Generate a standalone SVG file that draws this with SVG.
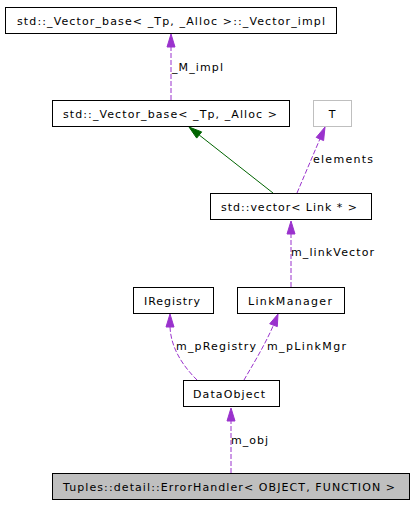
<svg xmlns="http://www.w3.org/2000/svg" width="415" height="507" viewBox="0 0 415 507">
<style>
.box{fill:#fff;stroke:#000;stroke-width:1}
.t{font-family:"DejaVu Sans",sans-serif;font-size:11px;fill:#000;text-anchor:middle}
.l{font-family:"DejaVu Sans",sans-serif;font-size:11px;fill:#000}
.d{fill:none;stroke:#9a32cd;stroke-width:1;stroke-dasharray:5,2}
.ah{fill:#9a32cd;stroke:#9a32cd}
</style>
<rect width="415" height="507" fill="#fff"/>
<g id="connectors">
<path class="d" d="M171,100 L171,47"/>
<polygon class="ah" points="171,34 175,47 167,47"/>
<text class="l" x="172" y="71" textLength="51" lengthAdjust="spacing">_M_impl</text>
<path d="M273,193 L199.2,135" fill="none" stroke="#006400"/>
<polygon points="189,127 201.7,131.9 196.7,138.1" fill="#006400" stroke="#006400"/>
<path class="d" d="M297,193 L319.9,139"/>
<polygon class="ah" points="325,127 323.6,140.6 316.2,137.4"/>
<text class="l" x="313" y="163" textLength="60" lengthAdjust="spacing">elements</text>
<path class="d" d="M291,287 L291,234"/>
<polygon class="ah" points="291,221 295,234 287,234"/>
<text class="l" x="291" y="256" textLength="83" lengthAdjust="spacing">m_linkVector</text>
<path class="d" d="M197,380 C185,368 171,350 170,327"/>
<polygon class="ah" points="170,314 174,327 166,327"/>
<text class="l" x="176" y="350" textLength="80" lengthAdjust="spacing">m_pRegistry</text>
<path class="d" d="M244,380 C252,366 265,345 273.5,325"/>
<polygon class="ah" points="278,314 277.3,326.6 269.7,323.8"/>
<text class="l" x="267" y="350" textLength="79" lengthAdjust="spacing">m_pLinkMgr</text>
<path class="d" d="M231,473 L231,421"/>
<polygon class="ah" points="231,408 235,421 227,421"/>
<text class="l" x="231" y="444" textLength="37" lengthAdjust="spacing">m_obj</text>
</g>
<g id="vector_impl"><rect class="box" x="5.5" y="7.5" width="331" height="26"/><text class="t" x="171" y="24.5" textLength="308" lengthAdjust="spacing">std::_Vector_base&lt; _Tp, _Alloc &gt;::_Vector_impl</text></g>
<g id="vector_base"><rect class="box" x="52.5" y="100.5" width="237" height="26"/><text class="t" x="170" y="117.5" textLength="214" lengthAdjust="spacing">std::_Vector_base&lt; _Tp, _Alloc &gt;</text></g>
<g id="T"><rect x="313.5" y="100.5" width="38" height="26" fill="#fff" stroke="#bfbfbf"/><text class="t" x="332" y="117.5">T</text></g>
<g id="vector"><rect class="box" x="210.5" y="193.5" width="161" height="26"/><text class="t" x="289" y="210.5" textLength="136" lengthAdjust="spacing">std::vector&lt; Link * &gt;</text></g>
<g id="IRegistry"><rect class="box" x="133.5" y="287.5" width="80" height="26"/><text class="t" x="172" y="304.5" textLength="56" lengthAdjust="spacing">IRegistry</text></g>
<g id="LinkManager"><rect class="box" x="237.5" y="287.5" width="107" height="26"/><text class="t" x="290" y="304.5" textLength="84" lengthAdjust="spacing">LinkManager</text></g>
<g id="DataObject"><rect class="box" x="183.5" y="380.5" width="96" height="26"/><text class="t" x="229" y="397.5" textLength="72" lengthAdjust="spacing">DataObject</text></g>
<g id="ErrorHandler"><rect x="52.5" y="473.5" width="357" height="26" fill="#bfbfbf" stroke="#000"/><text class="t" x="229" y="490.5" textLength="332" lengthAdjust="spacing">Tuples::detail::ErrorHandler&lt; OBJECT, FUNCTION &gt;</text></g>
</svg>
